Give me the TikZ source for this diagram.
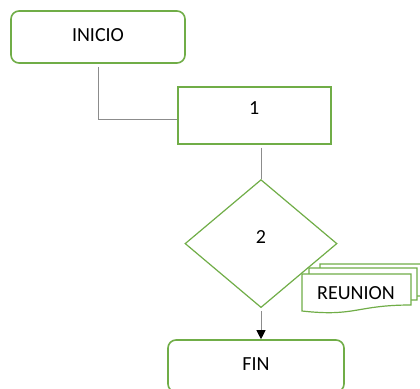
\documentclass[tikz,border=0pt]{standalone}
\usepackage{fontspec}
\setmainfont{Carlito}
\usepackage{tikz}
\usetikzlibrary{positioning,calc,shapes.geometric,arrows.meta}
\definecolor{verde}{HTML}{70AD47}
\definecolor{gris}{HTML}{8C8C8C}
\tikzset{
	letra/.style={font=\fontsize{20}{22}\selectfont},
	redondo/.style={letra, draw=verde, line width=1.6pt, rounded corners=8pt, fill=white, minimum width=174pt, minimum height=52pt, text depth=4pt},
	proceso/.style={letra, draw=verde, line width=1.6pt, fill=white, minimum width=153pt, minimum height=57pt, text depth=15pt},
	decision/.style={letra, diamond, draw=verde, line width=1.2pt, fill=white, minimum width=152pt, minimum height=128pt, inner sep=0pt, text depth=13pt},
	linea/.style={draw=gris, line width=0.9pt},
	hoja/.style={draw=verde, line width=1.2pt, fill=white},
}
\begin{document}
\begin{tikzpicture}[x=1pt,y=-1pt]
		\useasboundingbox (0,0) rectangle (420,388);
		\node[redondo] (inicio) at (98,37) {INICIO};
		\node[proceso, anchor=north west] (uno) at (177,86) {1};
		\node[decision, anchor=north] (dos) at (261,179) {2};
		\node[redondo, minimum width=176pt, below=31pt of dos, xshift=-5pt] (fin) {FIN};
		
		\draw[hoja] (320,264)--(424,264)--(424,296) .. controls (372,296) and (372,308) .. (320,302)--cycle;
		\draw[hoja] (309,268)--(417,268)--(417,300) .. controls (363,300) and (363,312) .. (309,306)--cycle;
		\draw[hoja] (302,274)--(411,274)--(411,305) .. controls (356,305) and (356,317) .. (302,311)--cycle;
		\node[letra] (reunion) at (356,293) {REUNION};
		
		\draw[linea, shorten <=3pt] (inicio.south) |- ([yshift=-4pt]uno.west);
		\draw[linea, shorten <=3pt] (uno.south -| dos.north) -- (dos.north);
		\draw[linea, shorten <=3pt, -{Triangle[length=9pt,width=9pt,color=black]}] (dos.south) -- (dos.south |- fin.north);
	\end{tikzpicture}
\end{document}
